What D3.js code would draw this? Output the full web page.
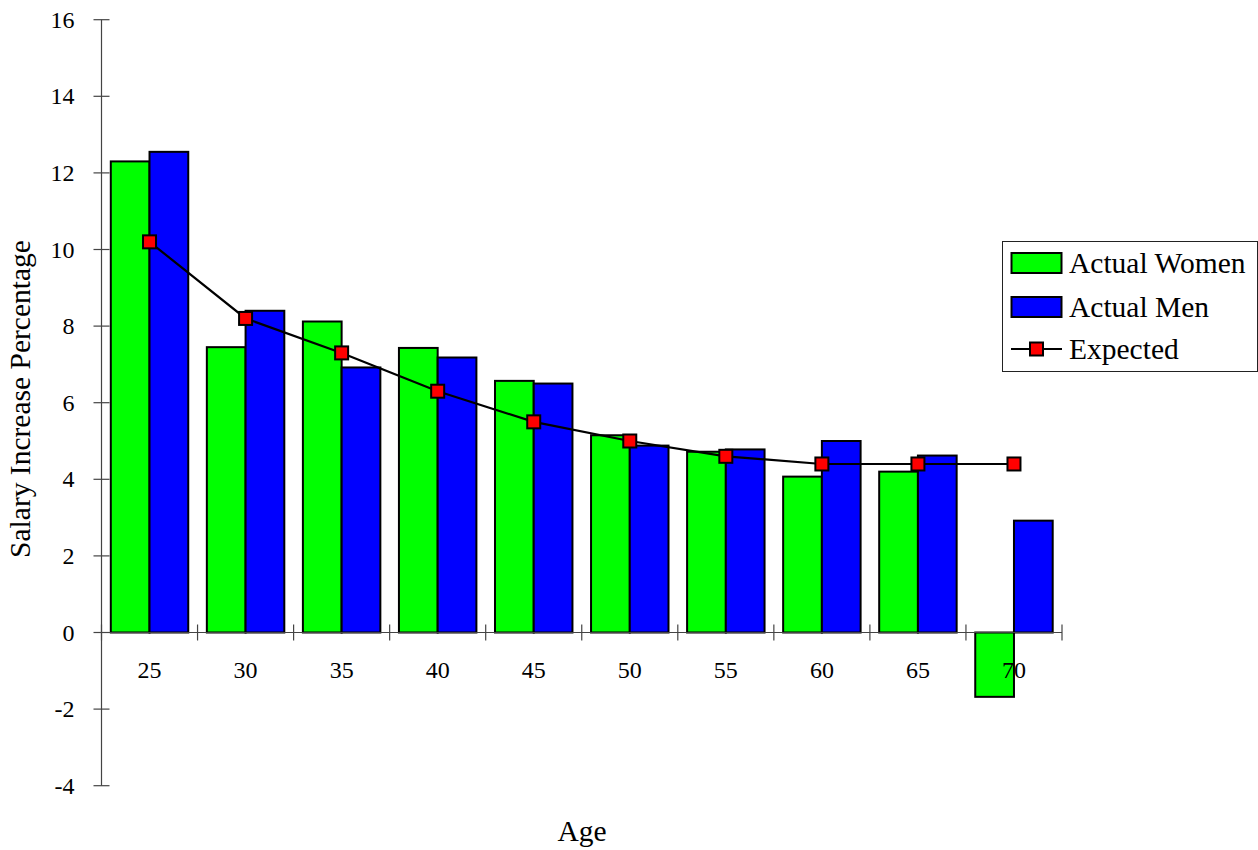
<!DOCTYPE html>
<html>
<head>
<meta charset="utf-8">
<script src="https://cdn.jsdelivr.net/npm/d3@7"></script>
<style>
html,body{margin:0;padding:0;background:#fff;}
svg{display:block;font-family:"Liberation Serif","Times New Roman",serif;}
</style>
</head>
<body>
<svg id="chart" width="1258" height="850"></svg>
<script>
const categories = ["25","30","35","40","45","50","55","60","65","70"];
const womenValues = [12.3, 7.45, 8.12, 7.43, 6.57, 5.15, 4.72, 4.07, 4.2, -1.68];
const menValues = [12.55, 8.4, 6.92, 7.18, 6.5, 4.88, 4.78, 5.0, 4.62, 2.92];
const expectedValues = [10.2, 8.2, 7.3, 6.3, 5.5, 5.0, 4.6, 4.4, 4.4, 4.4];
const yTicks = [-4, -2, 0, 2, 4, 6, 8, 10, 12, 14, 16];
const seriesNames = ["Actual Women", "Actual Men", "Expected"];
const seriesColors = ["#00ff00", "#0000ff", "#ff0000"];

(function(){
const svg = d3.select("#chart");
const pLeft = 101.5, pRight = 1062, pTop = 19.7, pBottom = 785.7;

const y = d3.scaleLinear().domain([-4, 16]).range([pBottom, pTop]);
const x0 = d3.scaleBand().domain(categories).range([pLeft, pRight]).padding(0);
const x1 = d3.scaleBand().domain(["w","m"]).range([0, x0.bandwidth()]).paddingInner(0).paddingOuter(0.24);

const axisColor = "#444";

// Y axis
const yAxis = svg.append("g").attr("transform", `translate(${pLeft},0)`);
yAxis.append("line").attr("x1",0).attr("x2",0).attr("y1",y(-4)).attr("y2",y(16)).attr("stroke",axisColor).attr("stroke-width",1.2);
yAxis.selectAll("line.tick").data(yTicks).join("line").attr("class","tick")
  .attr("x1",-8).attr("x2",8).attr("y1",d=>y(d)).attr("y2",d=>y(d)).attr("stroke",axisColor).attr("stroke-width",1.2);
yAxis.selectAll("text").data(yTicks).join("text")
  .attr("x",-27).attr("y",d=>y(d)).attr("dy","0.34em").attr("text-anchor","end")
  .attr("font-size",24).attr("fill","#000").text(d=>d);

// Bars
const groups = svg.append("g").selectAll("g").data(categories).join("g")
  .attr("transform", d=>`translate(${x0(d)},0)`);
groups.append("rect")
  .attr("x", x1("w")).attr("width", x1.bandwidth())
  .attr("y", (d,i)=>y(Math.max(0, womenValues[i])))
  .attr("height", (d,i)=>Math.abs(y(womenValues[i]) - y(0)))
  .attr("fill", seriesColors[0]).attr("stroke","#000").attr("stroke-width",2);
groups.append("rect")
  .attr("x", x1("m")).attr("width", x1.bandwidth())
  .attr("y", (d,i)=>y(Math.max(0, menValues[i])))
  .attr("height", (d,i)=>Math.abs(y(menValues[i]) - y(0)))
  .attr("fill", seriesColors[1]).attr("stroke","#000").attr("stroke-width",2);

// X axis at zero
const xAxis = svg.append("g").attr("transform", `translate(0,${y(0)})`);
xAxis.append("line").attr("x1",pLeft).attr("x2",pRight).attr("y1",0).attr("y2",0).attr("stroke",axisColor).attr("stroke-width",1.2);
const xTickPos = categories.map(c=>x0(c)).concat([pRight]);
xAxis.selectAll("line.tick").data(xTickPos).join("line").attr("class","tick")
  .attr("x1",d=>d).attr("x2",d=>d).attr("y1",-8).attr("y2",8).attr("stroke",axisColor).attr("stroke-width",1.2);
xAxis.selectAll("text").data(categories).join("text")
  .attr("x",d=>x0(d)+x0.bandwidth()/2).attr("y",45).attr("text-anchor","middle")
  .attr("font-size",24).attr("fill","#000").text(d=>d);

// Expected line
const cx = (d)=>x0(d)+x0.bandwidth()/2;
const line = d3.line().x((d,i)=>cx(categories[i])).y(d=>y(d));
svg.append("path").datum(expectedValues).attr("d", line)
  .attr("fill","none").attr("stroke","#000").attr("stroke-width",2.2);
svg.append("g").selectAll("rect").data(expectedValues).join("rect")
  .attr("x",(d,i)=>cx(categories[i])-6.5).attr("y",d=>y(d)-6.5)
  .attr("width",13).attr("height",13)
  .attr("fill",seriesColors[2]).attr("stroke","#000").attr("stroke-width",2);

// Axis titles
svg.append("text").attr("transform","translate(30,399) rotate(-90)")
  .attr("text-anchor","middle").attr("font-size",29.5).attr("fill","#000")
  .text("Salary Increase Percentage");
svg.append("text").attr("x",582).attr("y",841).attr("text-anchor","middle")
  .attr("font-size",29.5).attr("fill","#000").text("Age");

// Legend
const lg = svg.append("g").attr("transform","translate(1002,241)");
lg.append("rect").attr("x",0.5).attr("y",0.5).attr("width",255).attr("height",130)
  .attr("fill","#fff").attr("stroke","#222").attr("stroke-width",1);
const rowY = [22, 66, 108];
[0,1].forEach(i=>{
  lg.append("rect").attr("x",9.5).attr("y",rowY[i]-10).attr("width",50).attr("height",20)
    .attr("fill",seriesColors[i]).attr("stroke","#000").attr("stroke-width",2);
});
lg.append("line").attr("x1",9).attr("x2",60).attr("y1",rowY[2]).attr("y2",rowY[2]).attr("stroke","#000").attr("stroke-width",2.2);
lg.append("rect").attr("x",28).attr("y",rowY[2]-6.5).attr("width",13).attr("height",13)
  .attr("fill",seriesColors[2]).attr("stroke","#000").attr("stroke-width",2);
lg.selectAll("text.l").data(seriesNames).join("text").attr("class","l")
  .attr("x",67).attr("y",(d,i)=>rowY[i]).attr("dy","0.34em")
  .attr("font-size",29.5).attr("fill","#000").text(d=>d);
})();
</script>
</body>
</html>
